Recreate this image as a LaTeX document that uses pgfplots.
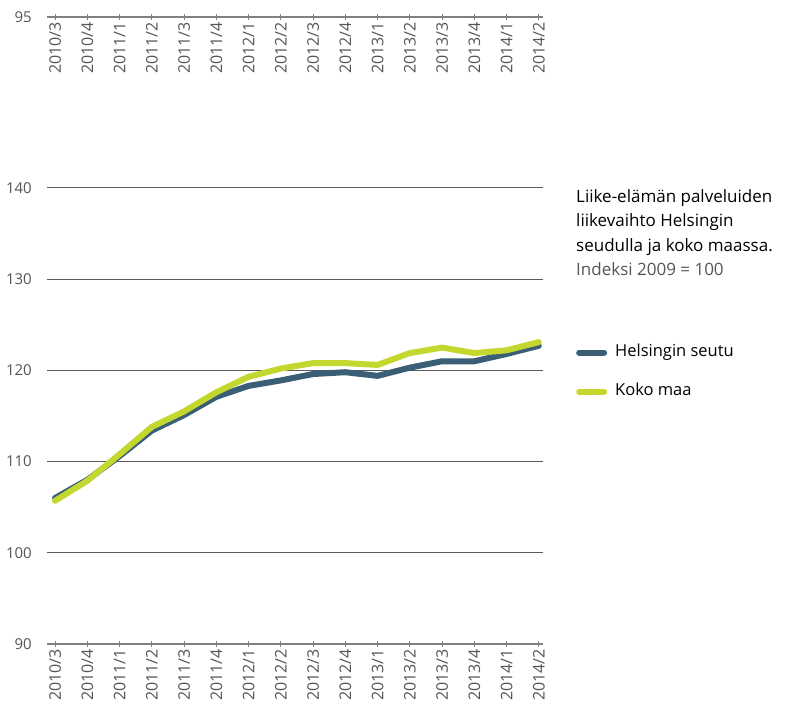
\documentclass[border=0pt]{standalone}
\usepackage{fontspec}
\setmainfont{Open Sans}
\usepackage{pgfplots}
\usepackage{pgfplotstable}
\pgfplotsset{compat=1.18}
\definecolor{hel}{HTML}{3A5E76}
\definecolor{koko}{HTML}{C3D72E}
\definecolor{tickc}{HTML}{555555}
\definecolor{axl}{HTML}{808080}
\definecolor{gridc}{HTML}{5A5A5A}

\pgfplotstableread{
i hel koko
0 106.0 105.7
1 108.0 107.9
2 110.6 110.8
3 113.4 113.8
4 115.1 115.5
5 117.1 117.6
6 118.3 119.3
7 118.9 120.2
8 119.6 120.8
9 119.8 120.8
10 119.4 120.6
11 120.3 121.9
12 121.0 122.5
13 121.0 121.9
14 121.8 122.2
15 122.7 123.1
}\data

\pgfplotsset{
  catx/.style={
    xmin=-0.25, xmax=15.13,
    xtick={0,...,15},
    xticklabels={2010/3,2010/4,2011/1,2011/2,2011/3,2011/4,2012/1,2012/2,2012/3,2012/4,2013/1,2013/2,2013/3,2013/4,2014/1,2014/2},
    x tick label style={rotate=90, anchor=east, font=\fontsize{16}{18}\selectfont, text=tickc, inner sep=2pt},
    tick align=outside,
    x tick style={draw=axl, line width=1pt},
    major tick length=6pt,
    y tick label style={font=\fontsize{15}{18}\selectfont, text=tickc, inner sep=0pt, xshift=-9pt},
    ytick style={draw=none},
    /pgf/number format/assume math mode=true,
  }
}

\begin{document}
\begin{tikzpicture}[x=1pt,y=1pt]
\path[use as bounding box] (0,0) rectangle (788,711);

% top stray axis
\begin{axis}[
  catx,
  scale only axis,
  width=496pt, height=10pt,
  at={(47pt,694pt)}, anchor=south west,
  ymin=95, ymax=96,
  axis x line=bottom,
  axis y line*=left,
  x axis line style={draw=axl, line width=2pt, -},
  y axis line style={draw=none},
  ytick={95},
  clip=false,
]
\end{axis}

% main axis
\begin{axis}[
  catx,
  scale only axis,
  width=496pt, height=456pt,
  at={(47pt,67pt)}, anchor=south west,
  ymin=90, ymax=140,
  ytick={90,100,110,120,130,140},
  axis x line=bottom,
  axis y line*=left,
  x axis line style={draw=axl, line width=2pt, -},
  y axis line style={draw=none},
  ymajorgrids,
  grid style={draw=gridc, line width=1pt},
  clip=false,
  legend style={draw=none, fill=none, at={(axis description cs:1.0665,0.657)}, anchor=north west,
    font=\fontsize{16.5}{18}\selectfont, row sep=23pt, inner sep=0pt,
    nodes={inner sep=0pt, text height=12pt, text depth=4pt, anchor=west}},
  legend cell align=left,
  legend image code/.code={\draw[#1, line width=6pt] (0pt,0pt) -- (25pt,0pt);},
  legend columns=1,
  /tikz/every odd column/.append style={column sep=8pt},
]
\addplot[hel, line width=6pt, line join=round, line cap=round] table[x=i, y=hel] {\data};
\addlegendentry{Helsingin seutu}
\addplot[koko, line width=6pt, line join=round, line cap=round] table[x=i, y=koko] {\data};
\addlegendentry{Koko maa}
\end{axis}

\node[anchor=north west, inner sep=0pt, align=left, font=\fontsize{17}{24.5}\selectfont] at (576,522)
  {Liike-elämän palveluiden\\liikevaihto Helsingin\\seudulla ja koko maassa.\\\textcolor{tickc}{Indeksi 2009 = 100}};
\end{tikzpicture}
\end{document}
